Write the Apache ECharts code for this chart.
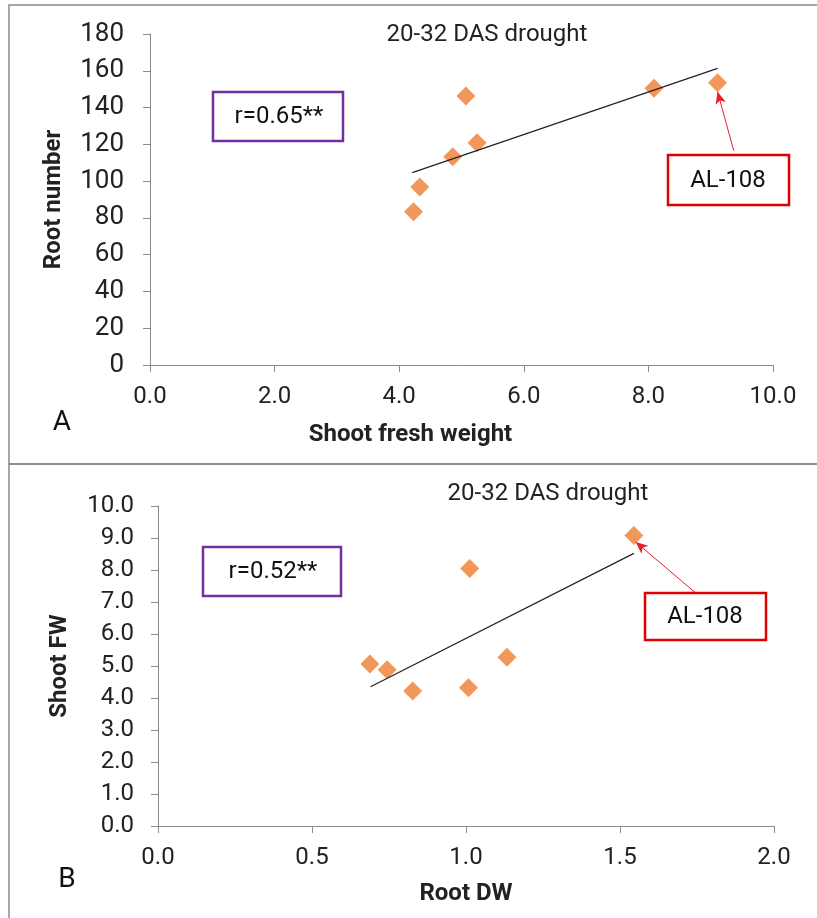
<!DOCTYPE html>
<html><head><meta charset="utf-8">
<script src="https://cdn.jsdelivr.net/npm/echarts@6/dist/echarts.min.js"></script>
<style>html,body{margin:0;padding:0;background:#fff}#c{width:817px;height:918px}</style>
</head><body><div id="c"></div>
<script>
// Panel A: Root number vs Shoot fresh weight
const shootFW_A = [4.23, 4.33, 4.86, 5.07, 5.25, 8.09, 9.11];
const rootNumber_A = [83.4, 96.8, 113.3, 146.3, 120.9, 150.5, 153.5];
const trendA_x = [4.21, 9.11];
const trendA_y = [104.6, 161.3];
const xTicksA = [0, 2, 4, 6, 8, 10];
const yTicksA = [0, 20, 40, 60, 80, 100, 120, 140, 160, 180];
const arrowA = [[9.37, 116.5], [9.11, 148.6]];
// Panel B: Shoot FW vs Root DW
const rootDW_B = [0.688, 0.744, 0.827, 1.012, 1.008, 1.133, 1.545];
const shootFW_B = [5.06, 4.88, 4.22, 8.05, 4.32, 5.27, 9.08];
const trendB_x = [0.69, 1.545];
const trendB_y = [4.35, 8.52];
const xTicksB = [0, 0.5, 1.0, 1.5, 2.0];
const yTicksB = [0, 1, 2, 3, 4, 5, 6, 7, 8, 9, 10];
const arrowB = [[1.746, 7.28], [1.551, 8.875]];

const titleText = '20-32 DAS drought';
const rA = 'r=0.65**', rB = 'r=0.52**', genotype = 'AL-108';

const FONT = 'Roboto';
const ORANGE = '#ED7D31';
const AXIS_C = '#8c8c8c';
const TXT = '#222';

function xAxisCfg(idx, ticks, name, gap, pad) {
  return {
    type: 'value', gridIndex: idx, min: ticks[0], max: ticks[ticks.length - 1],
    interval: ticks[1] - ticks[0],
    name: name, nameLocation: 'middle', nameGap: gap,
    nameTextStyle: { fontFamily: FONT, fontWeight: 'bold', fontSize: 24, color: TXT, padding: pad },
    axisLine: { show: true, onZero: false, lineStyle: { color: AXIS_C, width: 1 } },
    axisTick: { show: true, inside: false, length: 7, lineStyle: { color: AXIS_C } },
    axisLabel: { fontFamily: FONT, fontSize: 24, color: TXT, margin: 20, formatter: v => v.toFixed(1) },
    splitLine: { show: false }
  };
}
function yAxisCfg(idx, ticks, name, gap, margin, size, fmt) {
  return {
    type: 'value', gridIndex: idx, min: ticks[0], max: ticks[ticks.length - 1],
    interval: ticks[1] - ticks[0],
    name: name, nameLocation: 'middle', nameGap: gap,
    nameTextStyle: { fontFamily: FONT, fontWeight: 'bold', fontSize: 24, color: TXT },
    axisLine: { show: true, onZero: false, lineStyle: { color: AXIS_C, width: 1 } },
    axisTick: { show: true, inside: false, length: 7, lineStyle: { color: AXIS_C } },
    axisLabel: { fontFamily: FONT, fontSize: size, color: TXT, margin: margin, formatter: fmt },
    splitLine: { show: false }
  };
}

function arrowMark(a) {
  return {
    silent: true, symbol: ['none', 'arrow'], symbolSize: [8, 12],
    label: { show: false },
    lineStyle: { color: '#e8202a', width: 1, type: 'solid' },
    data: [[{ coord: a[0] }, { coord: a[1] }]]
  };
}

function box(x, y, w, h, color, text, tx, ty) {
  return [
    { type: 'rect', shape: { x: x, y: y, width: w, height: h },
      style: { fill: '#fff', stroke: color, lineWidth: 2.5 }, z: 100 },
    { type: 'text', x: tx, y: ty, z: 101,
      style: { text: text, fontFamily: FONT, fontSize: 24, fill: '#111', align: 'center', verticalAlign: 'middle' } }
  ];
}

const chart = echarts.init(document.getElementById('c'), null, { renderer: 'canvas' });
chart.setOption({
  animation: false,
  backgroundColor: '#fff',
  title: [
    { text: titleText, left: 482, top: 30, textAlign: 'center', textVerticalAlign: 'middle',
      textStyle: { fontFamily: FONT, fontWeight: 'normal', fontSize: 24, color: TXT } },
    { text: titleText, left: 543, top: 489, textAlign: 'center', textVerticalAlign: 'middle',
      textStyle: { fontFamily: FONT, fontWeight: 'normal', fontSize: 24, color: TXT } }
  ],
  grid: [
    { left: 150, top: 34, width: 623, height: 331 },
    { left: 158, top: 506, width: 616, height: 320 }
  ],
  xAxis: [
    xAxisCfg(0, xTicksA, 'Shoot fresh weight', 58, [0, 102, 0, 0]),
    xAxisCfg(1, xTicksB, 'Root DW', 56, 0)
  ],
  yAxis: [
    yAxisCfg(0, yTicksA, 'Root number', 84, 26, 26, v => String(v)),
    yAxisCfg(1, yTicksB, 'Shoot FW', 86, 24, 24, v => v.toFixed(1))
  ],
  series: [
    { type: 'scatter', xAxisIndex: 0, yAxisIndex: 0, symbol: 'diamond', symbolSize: [19, 19],
      itemStyle: { color: ORANGE }, z: 2,
      data: shootFW_A.map((x, i) => [x, rootNumber_A[i]]), markLine: arrowMark(arrowA) },
    { type: 'line', xAxisIndex: 0, yAxisIndex: 0, symbol: 'none', z: 3,
      lineStyle: { color: '#222', width: 1.2 },
      data: trendA_x.map((x, i) => [x, trendA_y[i]]) },
    { type: 'scatter', xAxisIndex: 1, yAxisIndex: 1, symbol: 'diamond', symbolSize: [19, 19],
      itemStyle: { color: ORANGE }, z: 2,
      data: rootDW_B.map((x, i) => [x, shootFW_B[i]]), markLine: arrowMark(arrowB) },
    { type: 'line', xAxisIndex: 1, yAxisIndex: 1, symbol: 'none', z: 3,
      lineStyle: { color: '#222', width: 1.2 },
      data: trendB_x.map((x, i) => [x, trendB_y[i]]) }
  ],
  graphic: [
    { type: 'rect', shape: { x: 9, y: 5, width: 830, height: 459 }, style: { fill: 'none', stroke: '#8a8a8a', lineWidth: 1.5 }, z: -1 },
    { type: 'rect', shape: { x: 9, y: 464, width: 830, height: 470 }, style: { fill: 'none', stroke: '#8a8a8a', lineWidth: 1.5 }, z: -1 },
    { type: 'text', x: 62, y: 423, style: { text: 'A', fontFamily: FONT, fontSize: 28, fill: '#111', align: 'center', verticalAlign: 'middle' } },
    { type: 'text', x: 67, y: 880, style: { text: 'B', fontFamily: FONT, fontSize: 28, fill: '#111', align: 'center', verticalAlign: 'middle' } },
    ...box(213, 92, 130, 49, '#7030A0', rA, 279, 117),
    ...box(668, 155, 121, 50, '#e00000', genotype, 728, 181),
    ...box(203, 547, 138, 49, '#7030A0', rB, 273, 572),
    ...box(645, 593, 121, 47, '#e00000', genotype, 705, 617)
  ]
});
</script>
</body></html>
